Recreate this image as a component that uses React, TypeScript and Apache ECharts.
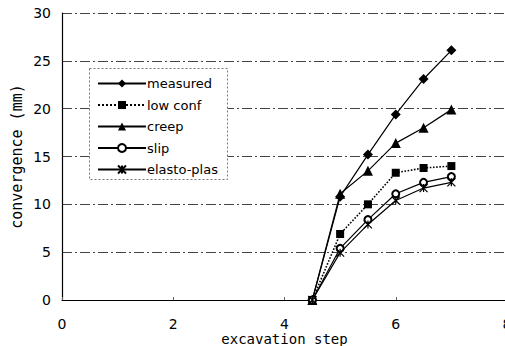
import React, { useEffect, useRef } from "react";
import * as echarts from "echarts";

const xSteps = [4.5, 5, 5.5, 6, 6.5, 7];
const seriesNames = ["measured", "low conf", "creep", "slip", "elasto-plas"];
const measured = [0, 10.8, 15.2, 19.4, 23.1, 26.1];
const lowConf = [0, 6.9, 10.0, 13.3, 13.8, 14.0];
const creep = [0, 11.1, 13.5, 16.4, 18.0, 19.9];
const slip = [0, 5.4, 8.4, 11.1, 12.3, 12.9];
const elastoPlas = [0, 4.95, 7.9, 10.4, 11.7, 12.3];
const xTicks = [0, 2, 4, 6, 8];
const yTicks = [0, 5, 10, 15, 20, 25, 30];

const asterisk = "path://M0 0 L10 10 M10 0 L0 10 M5 0 L5 10";

export default function App() {
  const ref = useRef<HTMLDivElement>(null);
  useEffect(() => {
    if (!ref.current) return;
    const chart = echarts.init(ref.current, undefined, { renderer: "svg" });
    const pair = (ys: number[]) => xSteps.map((x, i) => [x, ys[i]]);
    const base = (name: string, ys: number[], extra: any) => ({
      name,
      type: "line",
      data: pair(ys),
      lineStyle: { color: "#000", width: 1.2, type: "solid" },
      itemStyle: { color: "#000", borderColor: "#000", borderWidth: 0 },
      showAllSymbol: true,
      z: 3,
      ...extra,
    });
    const font = "DejaVu Sans";
    chart.setOption({
      animation: false,
      backgroundColor: "#fff",
      grid: { left: 62, top: 13, right: 13, bottom: 46, containLabel: false, outerBoundsMode: "none" },
      xAxis: {
        type: "value",
        min: xTicks[0],
        max: xTicks[xTicks.length - 1],
        interval: 2,
        name: "excavation step",
        nameLocation: "middle",
        nameGap: 32,
        nameMoveOverlap: false,
        nameTextStyle: { fontFamily: "DejaVu Sans Mono", fontSize: 14, lineHeight: 14, color: "#000" },
        axisLine: { show: true, lineStyle: { color: "#000", width: 1.2 } },
        axisTick: { show: true, inside: true, length: 3, lineStyle: { color: "#666" } },
        axisLabel: { fontFamily: font, fontSize: 14, lineHeight: 14, color: "#000", margin: 17 },
        splitLine: { show: false },
      },
      yAxis: {
        type: "value",
        min: yTicks[0],
        max: yTicks[yTicks.length - 1],
        interval: 5,
        name: "convergence (mm)",
        nameLocation: "middle",
        nameGap: 38,
        nameMoveOverlap: false,
        nameTextStyle: { fontFamily: "DejaVu Sans Mono", fontSize: 15, color: "#000" },
        axisLine: { show: true, lineStyle: { color: "#000", width: 1.2 } },
        axisTick: { show: false },
        axisLabel: { fontFamily: font, fontSize: 14, color: "#000", margin: 11 },
        splitLine: { show: true, lineStyle: { color: "#444", width: 1, type: [10, 3, 2, 3] } },
      },
      legend: {
        orient: "vertical",
        left: 92,
        top: 72,
        itemWidth: 48,
        itemHeight: 10,
        itemGap: 8.5,
        z: 6,
        data: seriesNames,
        textStyle: { fontFamily: font, fontSize: 13, color: "#000", padding: [0, 0, 0, -4] },
      },
      graphic: [
        {
          type: "rect",
          left: 89,
          top: 68,
          z: 5,
          shape: { width: 138, height: 111 },
          style: { fill: "#fff", stroke: "#777", lineWidth: 1, lineDash: [2, 2] },
        },
      ],
      series: [
        base(seriesNames[0], measured, { symbol: "diamond", symbolSize: 10 }),
        base(seriesNames[1], lowConf, {
          symbol: "rect",
          symbolSize: 8,
          lineStyle: { color: "#000", width: 1.6, type: "dotted" },
        }),
        base(seriesNames[2], creep, { symbol: "triangle", symbolSize: 10 }),
        base(seriesNames[3], slip, {
          symbol: "emptyCircle",
          symbolSize: 7,
          itemStyle: { color: "#000", borderColor: "#000", borderWidth: 1 },
        }),
        base(seriesNames[4], elastoPlas, {
          symbol: asterisk,
          symbolSize: 8,
          itemStyle: { color: "#000", borderColor: "#000", borderWidth: 1.2 },
        }),
      ],
    });
    return () => chart.dispose();
  }, []);
  return (
    <div style={{ position: "fixed", left: 0, top: 0, width: 505, height: 346, overflow: "hidden", background: "#fff" }}>
      <div ref={ref} style={{ width: 520, height: 346 }} />
    </div>
  );
}
